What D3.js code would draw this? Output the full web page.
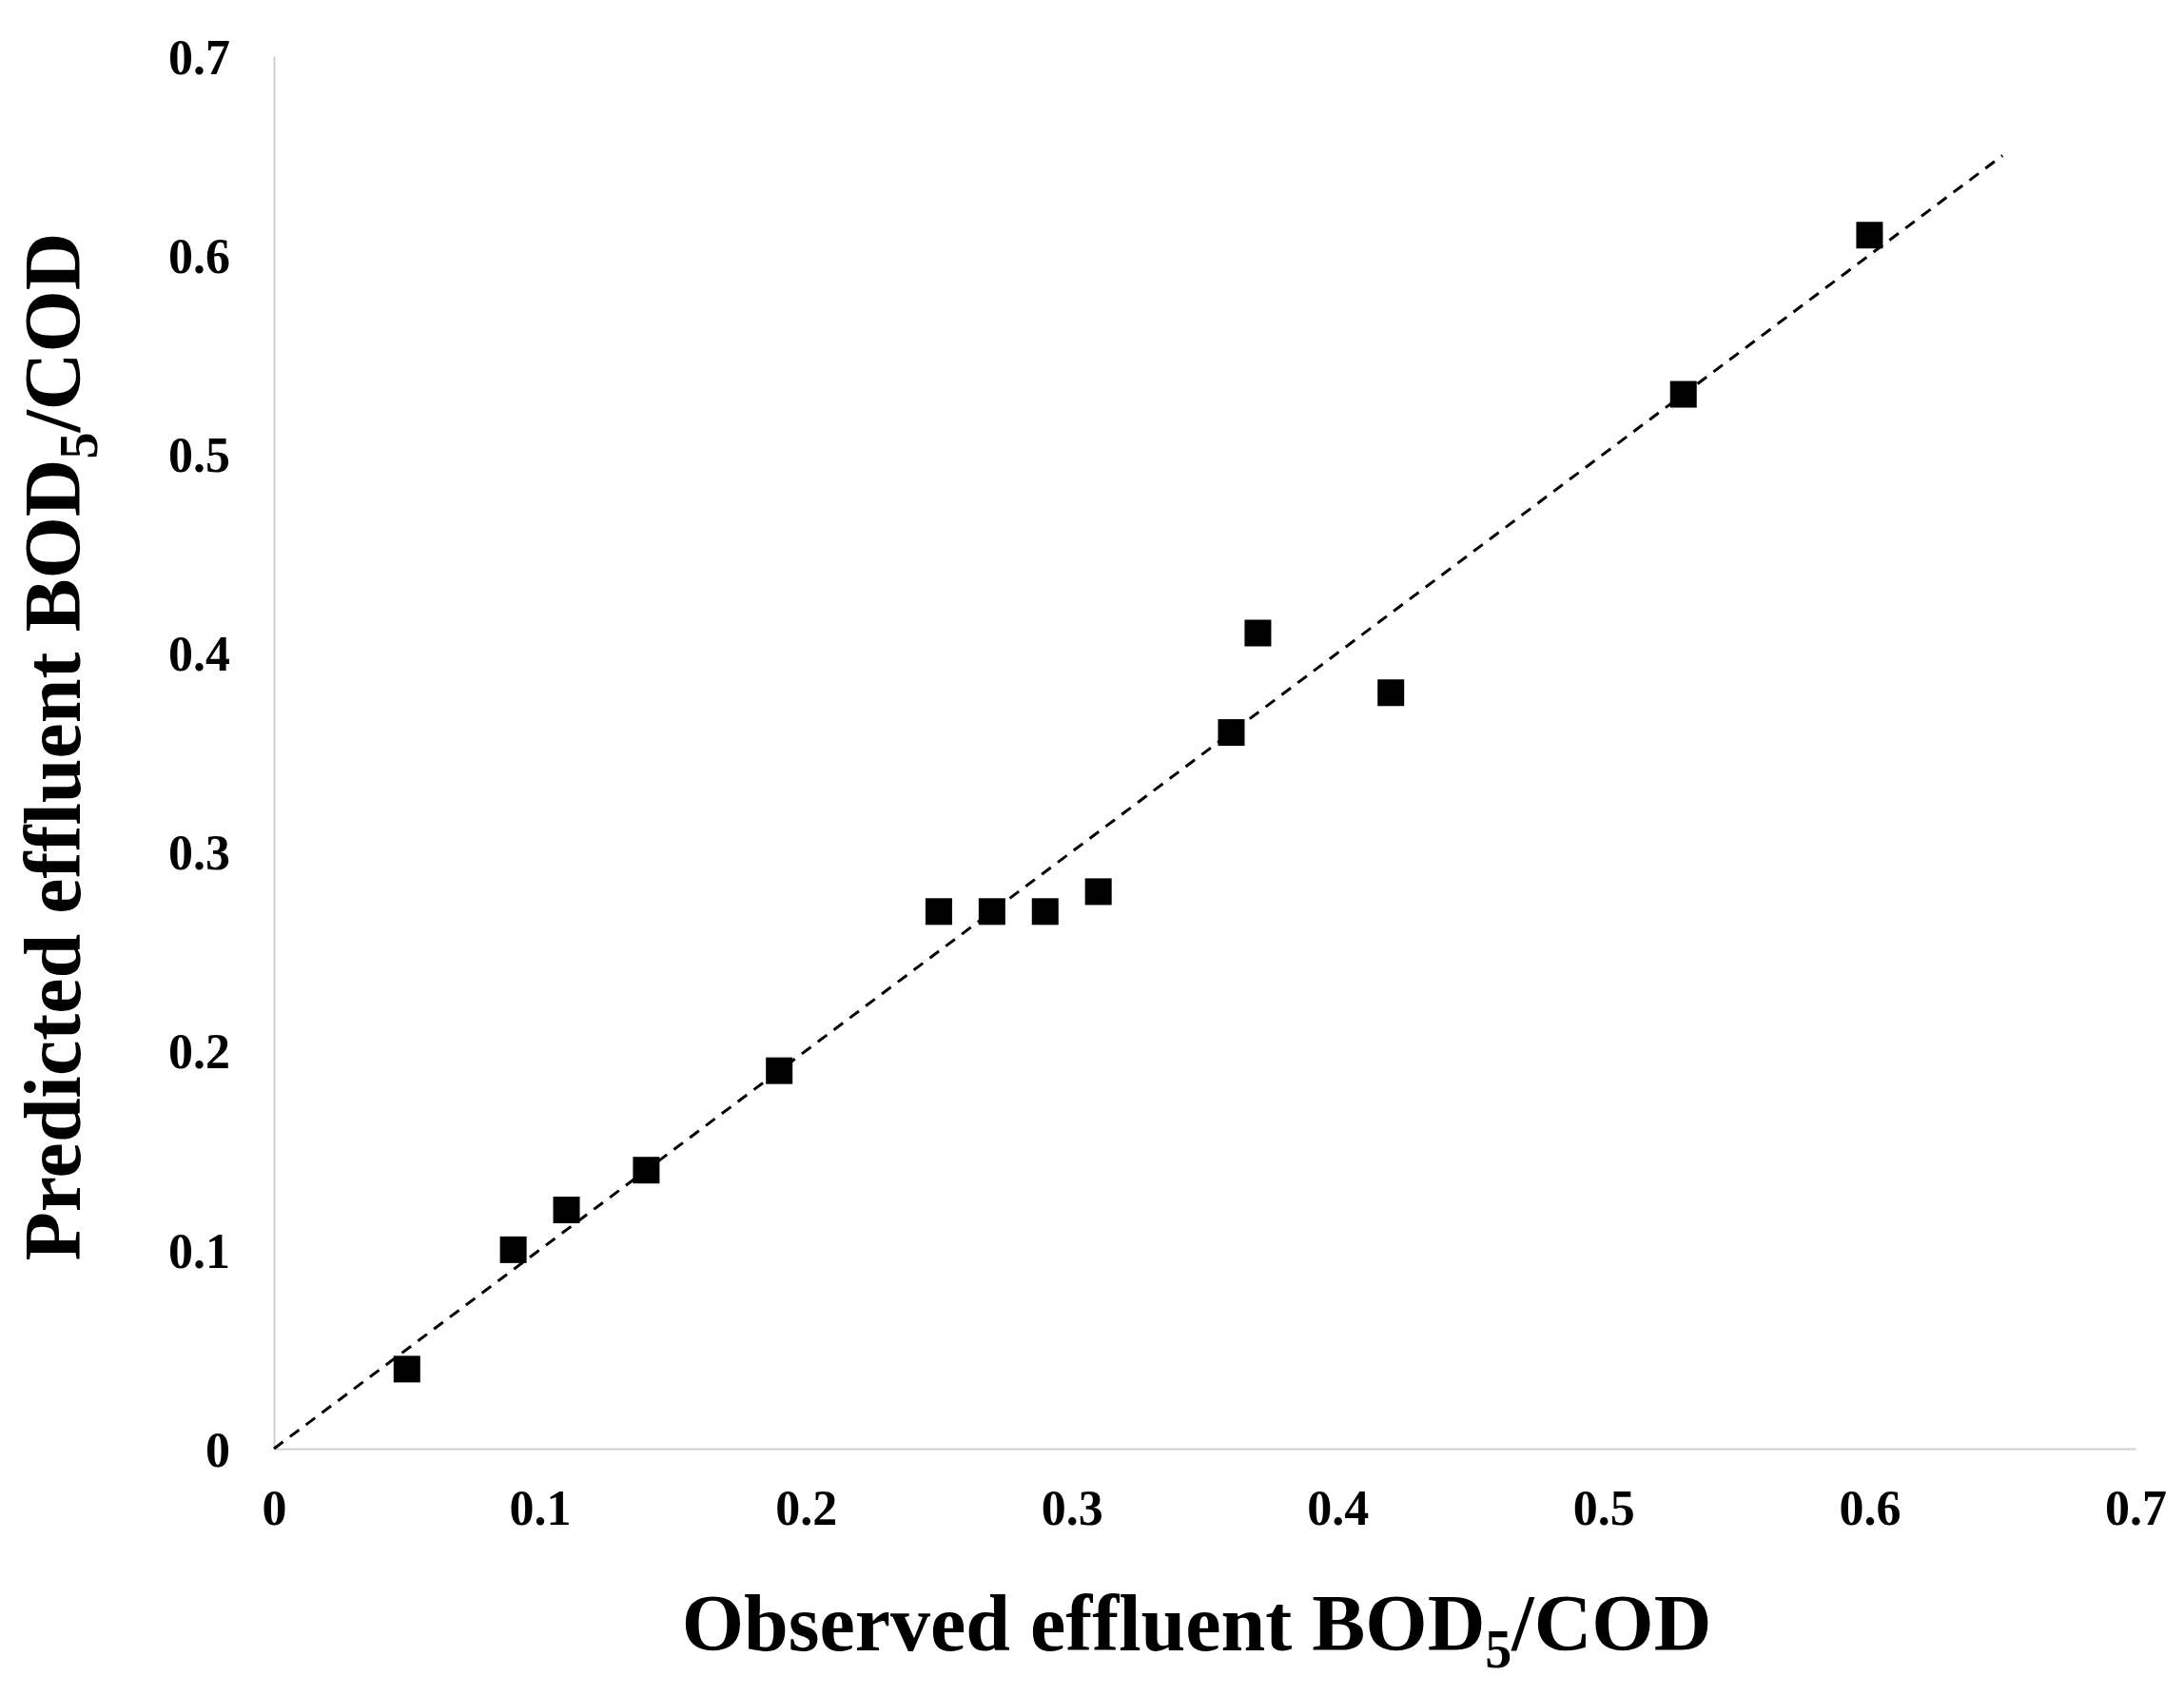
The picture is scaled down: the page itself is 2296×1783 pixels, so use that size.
<!DOCTYPE html>
<html lang="en">
<head>
  <meta charset="UTF-8" />
  <script src="https://d3js.org/d3.v7.min.js"></script>
  <style>
    body { margin: 0; background: #fff; }
    svg { display: block; font-family: "Liberation Serif", "Times New Roman", serif; font-weight: bold; }
  </style>
</head>
<body>
<svg width="2296" height="1783"></svg>
<script>
  const observed  = [0.05, 0.09, 0.11, 0.14, 0.19, 0.25, 0.27, 0.29, 0.31, 0.36, 0.37, 0.42, 0.53, 0.60];
  const predicted = [0.04, 0.10, 0.12, 0.14, 0.19, 0.27, 0.27, 0.27, 0.28, 0.36, 0.41, 0.38, 0.53, 0.61];
  const ticks = [0, 0.1, 0.2, 0.3, 0.4, 0.5, 0.6, 0.7];
  const lineEnds = [0, 0.65];

  const svg = d3.select("svg");
  const x = d3.scaleLinear().domain([0, 0.7]).range([288, 2245]);
  const y = d3.scaleLinear().domain([0, 0.7]).range([1523, 59]);

  const fmt = d => d === 0 ? "0" : d3.format(".1f")(d);

  // Axes: light grey lines, no tick marks
  const xAxis = svg.append("g").attr("transform", `translate(0,${y(0)})`)
    .call(d3.axisBottom(x).tickValues(ticks).tickSize(0).tickPadding(62).tickFormat(fmt));
  const yAxis = svg.append("g").attr("transform", `translate(${x(0)},0)`)
    .call(d3.axisLeft(y).tickValues(ticks).tickSize(0).tickPadding(46).tickFormat(fmt));
  [xAxis, yAxis].forEach(a => {
    a.attr("font-size", null).attr("font-family", null);
    a.select(".domain").attr("stroke", "#d0d0d0").attr("stroke-width", 2);
    a.selectAll("text").style("font-family", "Liberation Serif, serif").style("font-weight", "bold")
      .style("font-size", "52px").attr("fill", "#000");
  });
  xAxis.selectAll("text").attr("dy", "0.35em");
  yAxis.selectAll("text").attr("dy", "0.35em");

  // 1:1 dashed line
  svg.append("line")
    .attr("x1", x(lineEnds[0])).attr("y1", y(lineEnds[0]))
    .attr("x2", x(lineEnds[1])).attr("y2", y(lineEnds[1]))
    .attr("stroke", "#000").attr("stroke-width", 3).attr("stroke-dasharray", "12,9");

  // Points
  const s = 28;
  svg.selectAll("rect.pt").data(observed).enter().append("rect")
    .attr("class", "pt")
    .attr("x", d => x(d) - s / 2)
    .attr("y", (d, i) => y(predicted[i]) - s / 2)
    .attr("width", s).attr("height", s).attr("fill", "#000");

  // Axis titles
  const xt = svg.append("text").attr("x", 1258).attr("y", 1735)
    .attr("text-anchor", "middle").style("font-size", "84px");
  xt.append("tspan").text("Observed effluent BOD");
  xt.append("tspan").style("font-size", "56px").attr("dy", 18).text("5");
  xt.append("tspan").attr("dy", -18).text("/COD");

  const yt = svg.append("text").attr("transform", `translate(84,${(y(0) + y(0.7)) / 2 - 6}) rotate(-90)`)
    .attr("text-anchor", "middle").style("font-size", "84px");
  yt.append("tspan").text("Predicted effluent BOD");
  yt.append("tspan").style("font-size", "56px").attr("dy", 18).text("5");
  yt.append("tspan").attr("dy", -18).text("/COD");
</script>
</body>
</html>
